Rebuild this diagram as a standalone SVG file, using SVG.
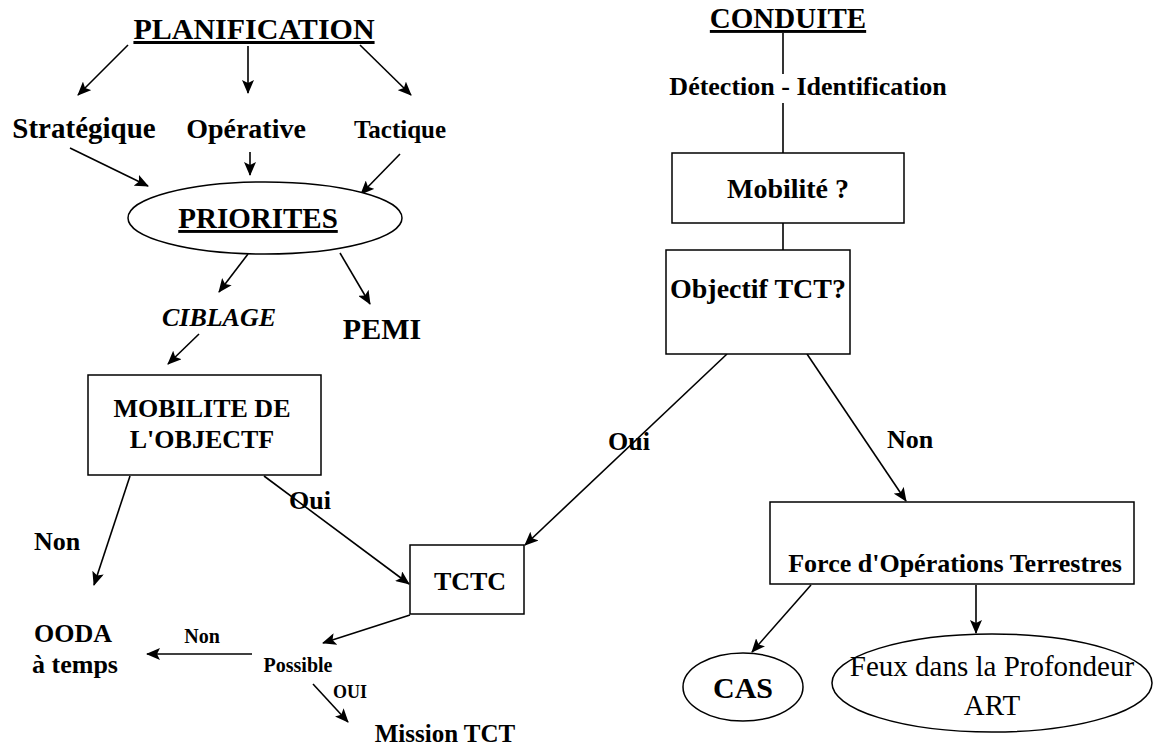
<svg xmlns="http://www.w3.org/2000/svg" width="1161" height="750" viewBox="0 0 1161 750">
<style>
text{font-family:"Liberation Serif","Times New Roman",serif;fill:#000;font-weight:bold;text-anchor:middle}
.n{font-weight:normal}
.i{font-style:italic}
.u{text-decoration:underline}
.shape{fill:#fff;stroke:#000;stroke-width:1.5}
.c line{stroke:#000;stroke-width:1.6}
</style>
<defs>
<marker id="ah" viewBox="0 0 14 12" refX="13" refY="6" markerWidth="14" markerHeight="12" markerUnits="userSpaceOnUse" orient="auto">
<path d="M0,0 L14,6 L0,12 L3,6 z" fill="#000"/>
</marker>
</defs>
<rect width="1161" height="750" fill="#fff"/>
<g class="c">
<line x1="128" y1="45" x2="78" y2="95" marker-end="url(#ah)"/>
<line x1="248" y1="46" x2="248" y2="93" marker-end="url(#ah)"/>
<line x1="360" y1="45" x2="411" y2="95" marker-end="url(#ah)"/>
<line x1="70" y1="148" x2="148" y2="186" marker-end="url(#ah)"/>
<line x1="250" y1="152" x2="250" y2="175" marker-end="url(#ah)"/>
<line x1="400" y1="154" x2="361" y2="194" marker-end="url(#ah)"/>
<line x1="248" y1="254" x2="219" y2="292" marker-end="url(#ah)"/>
<line x1="340" y1="253" x2="370" y2="304" marker-end="url(#ah)"/>
<line x1="199" y1="334" x2="168" y2="364" marker-end="url(#ah)"/>
<line x1="130" y1="476" x2="94" y2="585" marker-end="url(#ah)"/>
<line x1="264" y1="476" x2="409" y2="584" marker-end="url(#ah)"/>
<line x1="410" y1="615" x2="323" y2="643" marker-end="url(#ah)"/>
<line x1="252" y1="654" x2="147" y2="654" marker-end="url(#ah)"/>
<line x1="313" y1="684" x2="348" y2="722" marker-end="url(#ah)"/>
<line x1="783" y1="33" x2="783" y2="74"/>
<line x1="783" y1="103" x2="783" y2="153"/>
<line x1="783" y1="223" x2="783" y2="250"/>
<line x1="727" y1="354" x2="525" y2="545" marker-end="url(#ah)"/>
<line x1="807" y1="354" x2="906" y2="501" marker-end="url(#ah)"/>
<line x1="811" y1="585" x2="752" y2="652" marker-end="url(#ah)"/>
<line x1="976" y1="585" x2="976" y2="633" marker-end="url(#ah)"/>
</g>
<g id="planification"><text x="254" y="39" font-size="30" class="u">PLANIFICATION</text></g>
<g id="strategique"><text x="84" y="138" font-size="29">Stratégique</text></g>
<g id="operative"><text x="246" y="138" font-size="28">Opérative</text></g>
<g id="tactique"><text x="400" y="138" font-size="25">Tactique</text></g>
<g id="priorites"><ellipse class="shape" cx="265" cy="218" rx="137" ry="36"/><text x="258" y="228" font-size="29" class="u">PRIORITES</text></g>
<g id="ciblage"><text x="219" y="326" font-size="26" class="i">CIBLAGE</text></g>
<g id="pemi"><text x="382" y="339" font-size="30">PEMI</text></g>
<g id="mobilite-objectif"><rect class="shape" x="88" y="375" width="233" height="100"/><text x="202" y="417" font-size="26">MOBILITE DE</text><text x="202" y="448" font-size="26">L'OBJECTF</text></g>
<g id="non1"><text x="57" y="550" font-size="26">Non</text></g>
<g id="oui1"><text x="310" y="509" font-size="26">Oui</text></g>
<g id="tctc"><rect class="shape" x="410" y="545" width="114" height="69"/><text x="470" y="590" font-size="26">TCTC</text></g>
<g id="ooda"><text x="73" y="642" font-size="26">OODA</text><text x="75" y="673" font-size="26">à temps</text></g>
<g id="non2"><text x="202" y="643" font-size="20">Non</text></g>
<g id="possible"><text x="298" y="672" font-size="20">Possible</text></g>
<g id="oui2"><text x="350" y="698" font-size="18">OUI</text></g>
<g id="mission"><text x="445" y="742" font-size="25">Mission TCT</text></g>
<g id="conduite"><text x="788" y="28" font-size="29" class="u">CONDUITE</text></g>
<g id="detection"><text x="808" y="95" font-size="26">Détection - Identification</text></g>
<g id="mobilite"><rect class="shape" x="672" y="153" width="232" height="70"/><text x="788" y="198" font-size="28">Mobilité ?</text></g>
<g id="objectif"><rect class="shape" x="666" y="250" width="184" height="104"/><text x="758" y="298" font-size="28">Objectif TCT?</text></g>
<g id="oui3"><text x="629" y="450" font-size="26">Oui</text></g>
<g id="non3"><text x="910" y="448" font-size="26">Non</text></g>
<g id="force"><rect class="shape" x="770" y="502" width="364" height="82"/><text x="955" y="572" font-size="26">Force d'Opérations Terrestres</text></g>
<g id="cas"><ellipse class="shape" cx="743" cy="687" rx="60" ry="34"/><text x="743" y="698" font-size="30">CAS</text></g>
<g id="feux"><ellipse class="shape" cx="992" cy="683" rx="160" ry="49"/><text x="992" y="676" font-size="29" class="n">Feux dans la Profondeur</text><text x="992" y="715" font-size="29" class="n">ART</text></g>
</svg>
